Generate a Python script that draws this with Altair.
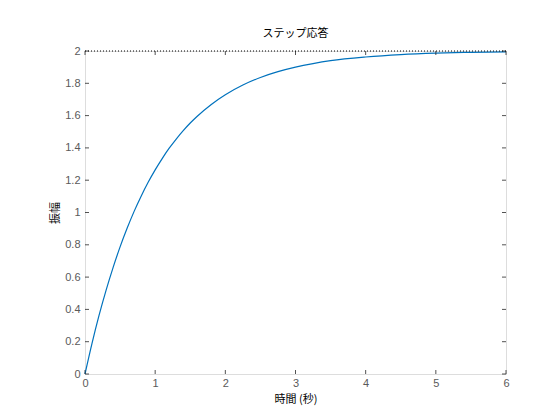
import altair as alt
import pandas as pd

# Step response
t_vals = [0.0, 0.1, 0.2, 0.3, 0.4, 0.5, 0.6, 0.7, 0.8, 0.9, 1.0, 1.1, 1.2, 1.3, 1.4,
          1.5, 1.6, 1.8, 2.0, 2.25, 2.5, 2.75, 3.0, 3.25, 3.5, 4.0, 4.5, 5.0, 5.5, 6.0]
y_vals = [0.0, 0.190, 0.363, 0.518, 0.659, 0.787, 0.902, 1.007, 1.101, 1.187, 1.264,
          1.334, 1.398, 1.455, 1.507, 1.554, 1.596, 1.669, 1.729, 1.789, 1.836, 1.872,
          1.900, 1.922, 1.940, 1.963, 1.978, 1.987, 1.992, 1.995]
x_ticks = [0, 1, 2, 3, 4, 5, 6]
y_ticks = [0, 0.2, 0.4, 0.6, 0.8, 1.0, 1.2, 1.4, 1.6, 1.8, 2.0]
steady_t = [0, 6]
steady_y = [2.0, 2.0]

W, H = 421, 323
TICK = 4
JP = "Noto Sans CJK JP"
LAB = "Liberation Sans"
AXC = "#262626"
LABC = "#5a5a5a"

df = pd.DataFrame({"t": t_vals, "y": y_vals})
steady = pd.DataFrame({"t": steady_t, "y": steady_y})
xt = pd.DataFrame({"t": x_ticks})
yt = pd.DataFrame({"y": y_ticks})

xscale = alt.Scale(domain=[0, 6], nice=False, zero=False)
yscale = alt.Scale(domain=[0, 2], nice=False, zero=False)

xaxis = alt.Axis(values=x_ticks, ticks=False, domain=False, grid=False, format="~g",
                 labelFont=LAB, labelFontSize=11, labelColor=LABC, labelPadding=3,
                 labelOverlap=False, labelFlush=False, labelBound=False,
                 title="時間 (秒)", titleFont=JP, titleFontSize=11, titleFontWeight="normal",
                 titleColor="black", titlePadding=5)
yaxis = alt.Axis(values=y_ticks, ticks=False, domain=False, grid=False, format="~g",
                 labelFont=LAB, labelFontSize=11, labelColor=LABC, labelPadding=5,
                 labelOverlap=False, labelFlush=False, labelBound=False,
                 title="振幅", titleFont=JP, titleFontSize=11, titleFontWeight="normal",
                 titleColor="black", titlePadding=4)

X = alt.X("t:Q", scale=xscale, axis=xaxis)
Y = alt.Y("y:Q", scale=yscale, axis=yaxis)

line = alt.Chart(df).mark_line(color="#0072BD", strokeWidth=1.2, interpolate="monotone").encode(
    x=X, y=Y)

dotted = alt.Chart(steady).mark_line(color="black", strokeWidth=1, strokeDash=[1, 2]).encode(
    x=X, y=Y)

tick_style = dict(color=AXC, strokeWidth=0.8)
left_ticks = alt.Chart(yt).mark_rule(**tick_style).encode(
    y=Y, x=alt.value(0), x2=alt.value(TICK))
right_ticks = alt.Chart(yt).mark_rule(**tick_style).encode(
    y=Y, x=alt.value(W), x2=alt.value(W - TICK))
bottom_ticks = alt.Chart(xt).mark_rule(**tick_style).encode(
    x=X, y=alt.value(H), y2=alt.value(H - TICK))
top_ticks = alt.Chart(xt).mark_rule(**tick_style).encode(
    x=X, y=alt.value(0), y2=alt.value(TICK))

chart = alt.layer(line, left_ticks, right_ticks, bottom_ticks, top_ticks, dotted).properties(
    width=W, height=H,
    title=alt.TitleParams("ステップ応答", font=JP, fontSize=11, fontWeight="normal",
                          color="black", offset=6, anchor="middle"),
    autosize=alt.AutoSizeParams(type="none"),
    padding={"left": 77, "top": 43, "right": 46, "bottom": 38},
).configure_view(stroke=AXC, strokeWidth=1).configure(background="white")

chart.save("out.html", embed_options={"renderer": "svg", "actions": False})
